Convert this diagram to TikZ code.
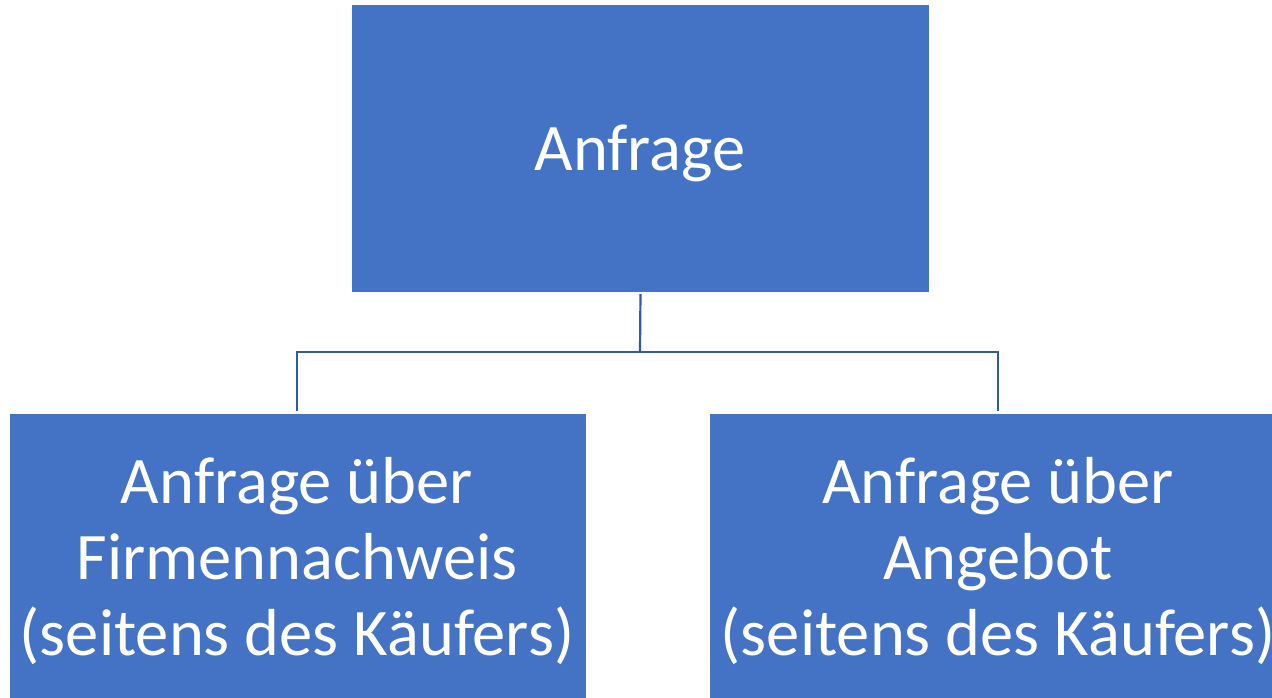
\documentclass[tikz,border=0pt]{standalone}
\usepackage{fontspec}
\setmainfont{Carlito}
\definecolor{boxblue}{HTML}{4472C4}
\definecolor{lineblue}{HTML}{3259A3}
\begin{document}
\begin{tikzpicture}[x=1pt,y=-1pt,
  box/.style={fill=boxblue, draw=none, inner sep=0pt},
  lbl/.style={text=white, align=center, font=\fontsize{66.5}{76}\selectfont, inner sep=0pt},
  conn/.style={draw=lineblue, line width=2.2pt}]
\useasboundingbox (0,0) rectangle (1272,697);
\begin{scope}
\clip (0,0) rectangle (1272,697);
\node[box, minimum width=577pt, minimum height=287pt] (top) at (640.5,148.5) {};
\node[box, minimum width=576pt, minimum height=300pt, anchor=north west] (left) at (10,414) {};
\node[box, minimum width=576pt, minimum height=300pt, anchor=north west] (right) at (710,414) {};
\end{scope}
\node[lbl, anchor=base] (ttop) at (640,170) {Anfrage};
\node[lbl, anchor=base] (tleft) at (297,655) {Anfrage über\\Firmennachweis\\(seitens des Käufers)};
\node[lbl, anchor=base] (tright) at (998,655) {Anfrage über\\Angebot\\(seitens des Käufers)};
\coordinate (mid) at (640,352);
\coordinate (lj) at (297,414);
\coordinate (rj) at (998,414);
\draw[conn, shorten <=2pt] (top.south) -- (mid);
\draw[conn, shorten >=3pt] (mid) -| (lj);
\draw[conn, shorten >=3pt] (mid) -| (rj);
\end{tikzpicture}
\end{document}
